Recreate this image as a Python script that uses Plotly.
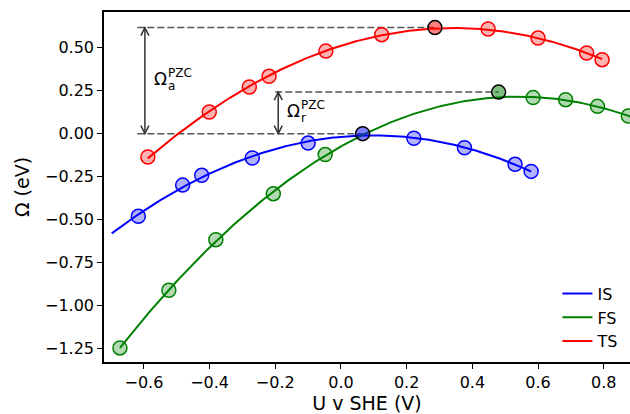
import numpy as np
import plotly.graph_objects as go

# Grand potential vs. electrode potential for initial, final and transition states
U_IS = [-0.617, -0.482, -0.424, -0.270, -0.100, 0.222, 0.376, 0.530, 0.579]
Om_IS = [-0.482, -0.300, -0.243, -0.142, -0.055, -0.027, -0.082, -0.179, -0.220]
U_FS = [-0.673, -0.524, -0.381, -0.206, -0.048, 0.585, 0.684, 0.781, 0.875]
Om_FS = [-1.249, -0.913, -0.618, -0.350, -0.122, 0.210, 0.198, 0.159, 0.103]
U_TS = [-0.588, -0.401, -0.279, -0.219, -0.046, 0.124, 0.448, 0.600, 0.748, 0.795]
Om_TS = [-0.136, 0.126, 0.272, 0.334, 0.481, 0.577, 0.610, 0.557, 0.470, 0.431]

# values at the potential of zero charge
PZC_IS = [0.066, 0.000]
PZC_FS = [0.480, 0.242]
PZC_TS = [0.286, 0.618]

# potential span of each quadratic fit line
SPAN_IS = [-0.698, 0.579]
SPAN_FS = [-0.673, 0.900]
SPAN_TS = [-0.588, 0.795]

# left end of the reference lines and x of the bracket arrows
REF_START_A = -0.620
REF_START_R = -0.200
ARROW_X_A = -0.597
ARROW_X_R = -0.191

X_TICKS = [-0.6, -0.4, -0.2, 0.0, 0.2, 0.4, 0.6, 0.8]
Y_TICKS = [-1.25, -1.0, -0.75, -0.5, -0.25, 0.0, 0.25, 0.5]

FONT = "DejaVu Sans"

# name, U, Omega, PZC point, fit span, fit includes PZC point, colours
series = [
    ("IS", U_IS, Om_IS, PZC_IS, SPAN_IS, True, "#0000ff", "rgba(0,0,255,0.3)", "rgba(0,0,255,0.5)"),
    ("FS", U_FS, Om_FS, PZC_FS, SPAN_FS, False, "#008000", "rgba(0,128,0,0.3)", "rgba(0,128,0,0.5)"),
    ("TS", U_TS, Om_TS, PZC_TS, SPAN_TS, True, "#ff0000", "rgba(255,0,0,0.3)", "rgba(255,0,0,0.5)"),
]

fig = go.Figure()

# quadratic fit of the sampled potentials
for name, u, om, pzc, span, with_pzc, col, fill, dark in series:
    uu = u + [pzc[0]] if with_pzc else u
    oo = om + [pzc[1]] if with_pzc else om
    coef = np.polyfit(np.array(uu), np.array(oo), 2)
    xs = np.linspace(span[0], span[1], 300)
    fig.add_trace(go.Scatter(x=xs, y=np.polyval(coef, xs), mode="lines", name=name,
                             line=dict(color=col, width=2)))

for name, u, om, pzc, span, with_pzc, col, fill, dark in series:
    fig.add_trace(go.Scatter(x=u, y=om, mode="markers", showlegend=False,
                             marker=dict(size=14, color=fill, line=dict(color=col, width=1.5))))
    fig.add_trace(go.Scatter(x=[pzc[0]], y=[pzc[1]], mode="markers", showlegend=False,
                             marker=dict(size=14, color=dark, line=dict(color="black", width=1.5))))

shapes = []
dash = dict(color="#555555", width=1.5, dash="7px,3px")
shapes.append(dict(type="line", xref="x", yref="y", x0=REF_START_A, x1=PZC_TS[0],
                   y0=PZC_TS[1], y1=PZC_TS[1], line=dash, layer="below"))
shapes.append(dict(type="line", xref="x", yref="y", x0=REF_START_R, x1=PZC_FS[0],
                   y0=PZC_FS[1], y1=PZC_FS[1], line=dash, layer="below"))
shapes.append(dict(type="line", xref="x", yref="y", x0=REF_START_A, x1=PZC_IS[0],
                   y0=PZC_IS[1], y1=PZC_IS[1], line=dash, layer="below"))

arrow = dict(color="#333333", width=1.5)
for ax_x, top in [(ARROW_X_A, PZC_TS[1]), (ARROW_X_R, PZC_FS[1])]:
    shapes.append(dict(type="line", xref="x", yref="y", x0=ax_x, x1=ax_x,
                       y0=PZC_IS[1], y1=top, line=arrow))
    shapes.append(dict(type="path", xref="x", yref="y", xsizemode="pixel", ysizemode="pixel",
                       xanchor=ax_x, yanchor=top, path="M -4 -8 L 0 0 L 4 -8", line=arrow))
    shapes.append(dict(type="path", xref="x", yref="y", xsizemode="pixel", ysizemode="pixel",
                       xanchor=ax_x, yanchor=PZC_IS[1], path="M -4 8 L 0 0 L 4 8", line=arrow))

annotations = []
for lx, ly, sub in [(-0.551, 0.32, "a"), (-0.145, 0.13, "r")]:
    annotations.append(dict(x=lx, y=ly, xref="x", yref="y", text="Ω", showarrow=False,
                            font=dict(family=FONT, size=17, color="black")))
    annotations.append(dict(x=lx, y=ly, xref="x", yref="y", text="PZC", showarrow=False,
                            xanchor="left", xshift=6, yshift=6,
                            font=dict(family=FONT, size=12, color="black")))
    annotations.append(dict(x=lx, y=ly, xref="x", yref="y", text=sub, showarrow=False,
                            xanchor="left", xshift=6, yshift=-7,
                            font=dict(family=FONT, size=12, color="black")))

fig.update_layout(
    width=630, height=414,
    margin=dict(l=104, r=0, t=12, b=52),
    paper_bgcolor="white", plot_bgcolor="white",
    font=dict(family=FONT, size=16, color="black"),
    shapes=shapes, annotations=annotations,
    legend=dict(x=0.862, y=0.244, xanchor="left", yanchor="top",
                bgcolor="rgba(0,0,0,0)", font=dict(size=16), tracegroupgap=0),
    xaxis=dict(range=[-0.7215, 0.88], tickvals=X_TICKS, tickformat=".1f",
               showgrid=False, zeroline=False, showline=True, linecolor="black",
               linewidth=1.5, mirror=True, ticks="outside", ticklen=5, tickwidth=1.3,
               tickcolor="black", title=dict(text="U v SHE (V)", standoff=8)),
    yaxis=dict(range=[-1.331, 0.709], tickvals=Y_TICKS, tickformat=".2f",
               showgrid=False, zeroline=False, showline=True, linecolor="black",
               linewidth=1.5, ticks="outside", ticklen=5, tickwidth=1.3,
               tickcolor="black", title=dict(text="Ω (eV)", standoff=10)),
)

fig.write_html("out.html")
